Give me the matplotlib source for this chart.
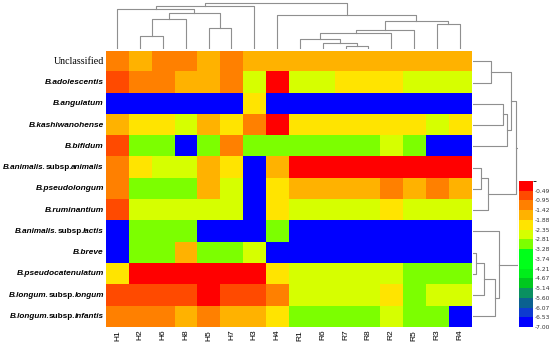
import numpy as np
import matplotlib
matplotlib.use("Agg")
import matplotlib.pyplot as plt
from matplotlib.colors import ListedColormap, BoundaryNorm
import matplotlib.colorbar as mcolorbar

# columns (samples) and rows (taxa), in clustered order
samples = ['H1', 'H2', 'H6', 'H8', 'H5', 'H7', 'H3', 'H4',
           'R1', 'R6', 'R7', 'R8', 'R2', 'R5', 'R3', 'R4']
taxa = ['Unclassified', 'B.adolescentis', 'B.angulatum', 'B.kashiwanohense',
        'B.bifidum', 'B.animalis.subsp.animalis', 'B.pseudolongum',
        'B.ruminantium', 'B.animalis.subsp.lactis', 'B.breve',
        'B.pseudocatenulatum', 'B.longum.subsp.longum', 'B.longum.subsp.infantis']

# log10 relative abundance, estimated from the colours
values = [
    [-1.2, -1.6, -1.2, -1.2, -1.6, -1.2, -1.6, -1.6, -1.6, -1.6, -1.6, -1.6, -1.6, -1.6, -1.6, -1.6],
    [-0.7, -1.2, -1.2, -1.6, -1.6, -1.2, -2.6, -0.3, -2.6, -2.6, -2.1, -2.1, -2.1, -2.6, -2.6, -2.6],
    [-7.0, -7.0, -7.0, -7.0, -7.0, -7.0, -2.1, -7.0, -7.0, -7.0, -7.0, -7.0, -7.0, -7.0, -7.0, -7.0],
    [-1.6, -2.1, -2.1, -2.6, -1.6, -2.1, -1.2, -0.3, -2.1, -2.1, -2.1, -2.1, -2.1, -2.1, -2.6, -2.1],
    [-0.7, -3.0, -3.0, -7.0, -3.0, -1.2, -3.0, -3.0, -3.0, -3.0, -3.0, -3.0, -2.6, -3.0, -7.0, -7.0],
    [-1.2, -2.1, -2.6, -2.6, -1.6, -2.1, -7.0, -1.6, -0.3, -0.3, -0.3, -0.3, -0.3, -0.3, -0.3, -0.3],
    [-1.2, -3.0, -3.0, -3.0, -1.6, -2.6, -7.0, -2.1, -1.6, -1.6, -1.6, -1.6, -1.2, -1.6, -1.2, -1.6],
    [-0.7, -2.6, -2.6, -2.6, -2.6, -2.6, -7.0, -2.1, -2.6, -2.6, -2.6, -2.6, -2.1, -2.6, -2.6, -2.6],
    [-7.0, -3.0, -3.0, -3.0, -7.0, -7.0, -7.0, -3.0, -7.0, -7.0, -7.0, -7.0, -7.0, -7.0, -7.0, -7.0],
    [-7.0, -3.0, -3.0, -1.6, -3.0, -3.0, -2.6, -7.0, -7.0, -7.0, -7.0, -7.0, -7.0, -7.0, -7.0, -7.0],
    [-2.1, -0.3, -0.3, -0.3, -0.3, -0.3, -0.3, -2.1, -2.6, -2.6, -2.6, -2.6, -2.6, -3.0, -3.0, -3.0],
    [-0.7, -0.7, -0.7, -0.7, -0.3, -0.7, -0.7, -1.2, -2.6, -2.6, -2.6, -2.6, -2.1, -3.0, -2.6, -2.6],
    [-1.2, -1.2, -1.2, -1.6, -1.2, -1.6, -1.6, -2.1, -3.0, -3.0, -3.0, -3.0, -2.6, -3.0, -3.0, -7.0],
]

# colour legend breaks and palette (bottom -> top)
breaks = [-7.00, -6.53, -6.07, -5.60, -5.14, -4.67, -4.21, -3.74, -3.28,
          -2.81, -2.35, -1.88, -1.42, -0.95, -0.49, -0.03]
palette = ['#0000FF', '#0D3BD0', '#0B6190', '#0A9060', '#00C81E', '#00EE1A',
           '#00FF1A', '#00FF1A', '#7CFF00', '#D6FF00', '#FFE400', '#FFB200',
           '#FF8000', '#FF4A00', '#FF0000']
tick_labels = ['-0.49', '-0.95', '-1.42', '-1.88', '-2.35', '-2.81', '-3.28', '-3.74',
               '-4.21', '-4.67', '-5.14', '-5.60', '-6.07', '-6.53', '-7.00']

# dendrograms: (left, right, height); leaves are indices
col_tree = (((0, ((((1, 2, 12.5), 3, 29.5), (4, 5, 20.8), 35.8)), 39.2), 6, 42.5),
            (7, (((((8, (9, (10, 11, 2.8), 5.8), 9.2), 12, 15.2), 13, 18.2),
                  (14, 15, 24.2), 27.2)), 33.2),
            45.2)
row_tree = ((((0, 1, 18.3), ((2, 3, 30.0), 4, 33.7), 38.3), ((5, 6, 7.7), 7, 15.0), 42.7),
            (8, (((9, 10, 3.3), 11, 11.0), 12, 21.7), 25.7),
            44.7)

W, H = 550, 344
fig = plt.figure(figsize=(W / 100, H / 100), dpi=100)


def px_axes(x0, y0, x1, y1):
    return fig.add_axes([x0 / W, 1 - y1 / H, (x1 - x0) / W, (y1 - y0) / H])


cmap = ListedColormap(palette)
norm = BoundaryNorm(breaks, cmap.N)

# heatmap
ax = px_axes(106, 50.7, 471, 327)
data = np.array(values)
ax.imshow(data, cmap=cmap, norm=norm, aspect='auto', interpolation='nearest')
ax.set_xticks(range(len(samples)))
ax.set_xticklabels(samples, rotation=90, fontsize=6, family='Liberation Sans')
ax.set_yticks([])
ax.tick_params(length=0, pad=2)
for s in ax.spines.values():
    s.set_visible(False)

# row labels: species names bold italic, "subsp." upright, drawn right to left
renderer = fig.canvas.get_renderer()
for i, name in enumerate(taxa):
    if name == 'Unclassified':
        parts = [(name, 'normal', 'normal', 'Liberation Serif', 7.2)]
    elif '.subsp.' in name:
        a, b = name.split('.subsp.')
        parts = [(a + '.', 'italic', 'bold', 'Liberation Sans', 5.9),
                 ('subsp.', 'normal', 'bold', 'Liberation Sans', 5.9),
                 (b, 'italic', 'bold', 'Liberation Sans', 5.9)]
    else:
        parts = [(name, 'italic', 'bold', 'Liberation Sans', 6.0)]
    off = 1.5
    for txt, st, wt, fam, fs in reversed(parts):
        t = ax.annotate(txt, xy=(0, i), xycoords=('axes fraction', 'data'),
                        xytext=(-off, 0), textcoords='offset points',
                        ha='right', va='center', fontsize=fs, fontstyle=st,
                        fontweight=wt, family=fam)
        off += t.get_window_extent(renderer).width * 72 / fig.dpi - 0.4

line_kw = dict(color='#8f8f8f', lw=0.8)


def draw_tree(node, axis, orient):
    if not isinstance(node, tuple):
        return node, 0.0
    lp, lh = draw_tree(node[0], axis, orient)
    rp, rh = draw_tree(node[1], axis, orient)
    h = node[2]
    if orient == 'top':
        axis.plot([lp, lp, rp, rp], [lh, h, h, rh], **line_kw)
    else:
        axis.plot([lh, h, h, rh], [lp, lp, rp, rp], **line_kw)
    return (lp + rp) / 2, h


# column dendrogram
axc = px_axes(106, 0, 471, 48.5)
draw_tree(col_tree, axc, 'top')
axc.set_xlim(-0.5, len(samples) - 0.5)
axc.set_ylim(0, 48.5)
axc.axis('off')

# row dendrogram
axr = px_axes(473, 50.7, 518, 327)
draw_tree(row_tree, axr, 'right')
axr.set_ylim(len(taxa) - 0.5, -0.5)
axr.set_xlim(0, 45)
axr.axis('off')

# colour legend
cax = px_axes(518.5, 181, 533, 327)
cb = mcolorbar.ColorbarBase(cax, cmap=cmap, norm=norm, boundaries=breaks)
cb.outline.set_visible(False)
cb.set_ticks([float(t) for t in tick_labels])
cb.set_ticklabels(tick_labels)
cax.tick_params(length=0, pad=1, labelsize=4.3, labelcolor='#333333')

fig.savefig('out.png', dpi=100)
